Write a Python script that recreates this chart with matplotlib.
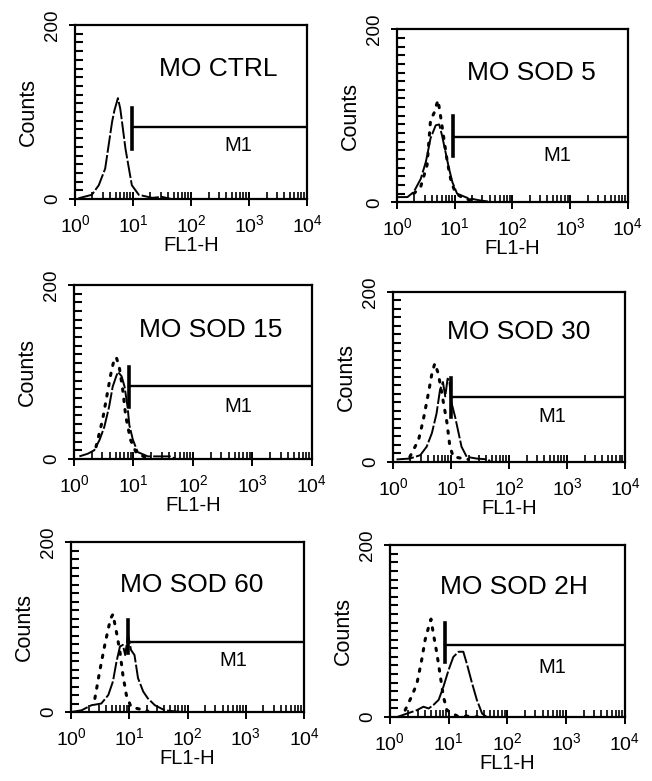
import numpy as np
import matplotlib.pyplot as plt
from matplotlib.ticker import FixedLocator, LogLocator, NullFormatter, MultipleLocator

plt.rcParams['font.family'] = ['Liberation Sans', 'DejaVu Sans']
plt.rcParams['mathtext.default'] = 'regular'

# panel titles
titles = ['MO CTRL', 'MO SOD 5', 'MO SOD 15', 'MO SOD 30', 'MO SOD 60', 'MO SOD 2H']

# FL1-H as log10 channel, counts
ctrl_log = [0.06, 0.29, 0.41, 0.52, 0.58, 0.64, 0.68, 0.74, 0.78, 0.81, 0.87, 0.93, 0.98, 1.10, 1.33, 1.50, 1.67]
ctrl_cnt = [1, 5, 16, 35, 62, 89, 102, 116, 104, 89, 58, 35, 16, 5, 1.5, 2.6, 0]

sod5_log = [0.005, 0.18, 0.29, 0.41, 0.50, 0.58, 0.67, 0.73, 0.78, 0.84, 0.90, 0.96, 1.04, 1.22, 1.45, 1.68]
sod5_cnt = [6, 6, 12, 27, 47, 74, 89, 90, 77, 58, 39, 23, 10, 5, 2, 0]
sod5_ref_log = [0.29, 0.41, 0.52, 0.58, 0.64, 0.68, 0.71, 0.76, 0.81, 0.87, 0.94, 1.02, 1.17, 1.40]
sod5_ref_cnt = [10, 18, 43, 95, 103, 112, 118, 97, 74, 47, 23, 10, 4, 1]

sod15_log = [0.09, 0.23, 0.34, 0.43, 0.51, 0.59, 0.65, 0.71, 0.74, 0.80, 0.85, 0.90, 0.93, 0.99, 1.07, 1.24, 1.63, 1.70]
sod15_cnt = [3, 6, 10, 22, 37, 60, 83, 95, 100, 95, 83, 60, 39, 22, 8, 3, 3, 0]
sod15_ref_log = [0.37, 0.48, 0.57, 0.62, 0.66, 0.71, 0.76, 0.82, 0.87, 0.95, 1.04, 1.19]
sod15_ref_cnt = [14, 45, 79, 98, 110, 117, 106, 79, 49, 22, 8, 2]

sod30_log = [0.06, 0.29, 0.47, 0.58, 0.67, 0.75, 0.81, 0.86, 0.90, 0.94, 0.97, 1.01, 1.07, 1.13, 1.18, 1.27, 1.44, 1.64, 1.68]
sod30_cnt = [3, 4, 8, 18, 34, 57, 85, 94, 77, 98, 96, 69, 53, 34, 18, 6, 4, 3, 0]
sod30_ref_log = [0.29, 0.44, 0.52, 0.61, 0.67, 0.72, 0.78, 0.84, 0.93, 0.98, 1.04, 1.30]
sod30_ref_cnt = [6, 26, 49, 81, 104, 116, 104, 81, 46, 18, 6, 3]

sod60_log = [0.0, 0.18, 0.35, 0.52, 0.64, 0.72, 0.78, 0.84, 0.89, 0.93, 0.98, 1.03, 1.09, 1.15, 1.24, 1.32, 1.44, 1.61, 1.90]
sod60_cnt = [0, 2, 8, 10, 20, 36, 59, 77, 79, 67, 91, 73, 67, 40, 24, 16, 8, 2, 0]
sod60_ref_log = [0.41, 0.49, 0.58, 0.64, 0.68, 0.72, 0.78, 0.84, 0.89, 0.95, 1.03, 1.32]
sod60_ref_cnt = [16, 47, 79, 98, 110, 115, 94, 71, 44, 20, 6, 1]

sod2h_log = [0.12, 0.29, 0.46, 0.57, 0.66, 0.74, 0.83, 0.91, 1.00, 1.08, 1.17, 1.25, 1.31, 1.40, 1.48, 1.57, 1.65]
sod2h_cnt = [0, 4, 8, 12, 10, 14, 20, 35, 55, 70, 76, 76, 62, 39, 20, 4, 0]
sod2h_ref_log = [0.26, 0.37, 0.46, 0.54, 0.60, 0.66, 0.70, 0.74, 0.80, 0.86, 0.91, 0.97, 1.15, 1.35, 1.50]
sod2h_ref_cnt = [8, 24, 39, 66, 90, 105, 114, 97, 74, 47, 24, 8, 1, 1, 0]

solid_logs = [ctrl_log, sod5_log, sod15_log, sod30_log, sod60_log, sod2h_log]
solid_cnts = [ctrl_cnt, sod5_cnt, sod15_cnt, sod30_cnt, sod60_cnt, sod2h_cnt]
ref_logs = [None, sod5_ref_log, sod15_ref_log, sod30_ref_log, sod60_ref_log, sod2h_ref_log]
ref_cnts = [None, sod5_ref_cnt, sod15_ref_cnt, sod30_ref_cnt, sod60_ref_cnt, sod2h_ref_cnt]

# M1 gate: start channel, bar height, tick span, label position
m1_start = [9.8, 9.3, 8.4, 10.0, 9.5, 8.7]
m1_level = [83, 76, 84, 76, 82, 84]
m1_low = [58, 54, 60, 53, 69, 64]
m1_high = [105, 100, 106, 99, 108, 109]
m1_label_log = [2.81, 2.77, 2.76, 2.74, 2.78, 2.76]
m1_label_cnt = [62, 54, 60, 53, 61, 58]

title_log = [2.47, 2.32, 2.30, 2.17, 2.08, 2.11]
title_cnt = [149, 150, 148, 153, 149, 151]

# axes rectangles in figure fractions
rects = [
    [0.115, 0.745, 0.356, 0.223],
    [0.609, 0.741, 0.354, 0.2215],
    [0.1135, 0.4123, 0.365, 0.223],
    [0.6028, 0.4085, 0.356, 0.2177],
    [0.1089, 0.0883, 0.3574, 0.2177],
    [0.598, 0.0819, 0.3604, 0.220],
]

fig = plt.figure(figsize=(6.52, 7.81), dpi=100)

for i in range(6):
    ax = fig.add_axes(rects[i])
    ax.set_xscale('log')
    ax.set_xlim(1, 1e4)
    ax.set_ylim(0, 200)

    ax.plot(10 ** np.array(solid_logs[i]), solid_cnts[i], color='black',
            linewidth=1.4, linestyle=(0, (9, 1.2)))
    if ref_logs[i] is not None:
        ax.plot(10 ** np.array(ref_logs[i]), ref_cnts[i], color='black',
                linewidth=2.2, linestyle=(0, (0.8, 2.6)), dash_capstyle='round')

    # M1 marker
    ax.plot([m1_start[i], 1e4], [m1_level[i], m1_level[i]], color='black', linewidth=1.7)
    ax.plot([m1_start[i], m1_start[i]], [m1_low[i], m1_high[i]], color='black', linewidth=2.6)
    ax.text(10 ** m1_label_log[i], m1_label_cnt[i], 'M1', fontsize=14.5,
            ha='center', va='center')

    ax.text(10 ** title_log[i], title_cnt[i], titles[i], fontsize=19,
            ha='center', va='center')

    for s in ax.spines.values():
        s.set_linewidth(1.6)

    ax.xaxis.set_major_locator(FixedLocator([1, 10, 100, 1000, 10000]))
    ax.xaxis.set_minor_locator(LogLocator(base=10, subs=np.arange(2, 10), numticks=20))
    ax.xaxis.set_minor_formatter(NullFormatter())
    ax.tick_params(axis='x', which='major', direction='inout', length=10, width=1.4,
                   labelsize=14, pad=6)
    ax.tick_params(axis='x', which='minor', direction='in', length=5, width=1.2,
                   bottom=True)

    ax.yaxis.set_major_locator(FixedLocator([0, 200]))
    ax.yaxis.set_minor_locator(MultipleLocator(10))
    ax.yaxis.set_minor_formatter(NullFormatter())
    ax.tick_params(axis='y', which='major', direction='inout', length=8, width=1.4,
                   labelsize=13.5, pad=6)
    ax.tick_params(axis='y', which='minor', direction='in', length=6, width=1.5,
                   left=True)
    for lbl in ax.get_yticklabels():
        lbl.set_rotation(90)
        lbl.set_va('center')

    ax.set_xlabel('FL1-H', fontsize=14.5, labelpad=0)
    ax.set_ylabel('Counts', fontsize=15.5, labelpad=4)

fig.savefig('out.png', dpi=100)
